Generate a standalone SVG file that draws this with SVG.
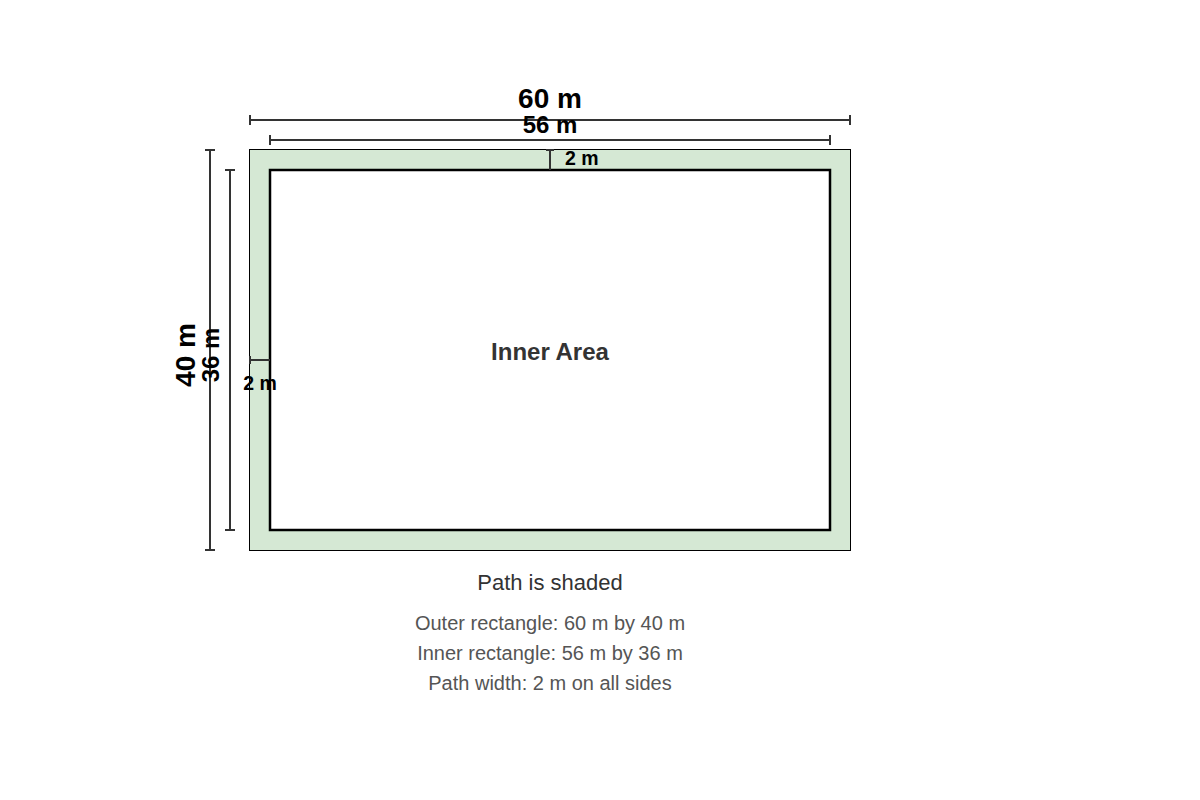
<svg xmlns="http://www.w3.org/2000/svg" width="1200" height="800" viewBox="0 0 1200 800">
<style>
.dim{stroke:#333;stroke-width:2;fill:none}
.lbl{font-family:"Liberation Sans",Arial,sans-serif;font-weight:bold;fill:#000}
.note{font-family:"Liberation Sans",Arial,sans-serif;fill:#555;font-size:20px;text-anchor:middle}
</style>
<rect width="1200" height="800" fill="#fff"/>
<g id="outer-rect"><rect x="249.5" y="149.5" width="601" height="401" fill="#d5e8d4" stroke="#000" stroke-width="1"/></g>
<g id="inner-rect"><rect x="270" y="170" width="560" height="360" fill="#fff" stroke="#000" stroke-width="2.5"/>
<text x="550" y="360" text-anchor="middle" font-family="Liberation Sans, Arial, sans-serif" font-weight="bold" font-size="24" fill="#333">Inner Area</text></g>
<g id="connectors">
<path class="dim" d="M250 120H850M250 115V125M850 115V125"/>
<path class="dim" d="M270 140H830M270 135V145M830 135V145"/>
<path class="dim" d="M210 150V550M205 150H215M205 550H215"/>
<path class="dim" d="M230 170V530M225 170H235M225 530H235"/>
<path class="dim" d="M550 150V170M546 150H554" stroke-width="1.5"/>
<path class="dim" d="M250 360H270M250 356V364" stroke-width="1.5"/>
</g>
<g id="labels">
<text class="lbl" x="550" y="108" text-anchor="middle" font-size="28">60 m</text>
<text class="lbl" x="550" y="133" text-anchor="middle" font-size="24">56 m</text>
<text class="lbl" transform="translate(195 355) rotate(-90)" text-anchor="middle" font-size="28">40 m</text>
<text class="lbl" transform="translate(219 355) rotate(-90)" text-anchor="middle" font-size="24">36 m</text>
<text class="lbl" x="565" y="165" font-size="19.5">2 m</text>
<text class="lbl" x="260" y="390" text-anchor="middle" font-size="19.5">2 m</text>
</g>
<g id="notes">
<text x="550" y="590" text-anchor="middle" font-family="Liberation Sans, Arial, sans-serif" font-size="22" fill="#333">Path is shaded</text>
<text class="note" x="550" y="630">Outer rectangle: 60 m by 40 m</text>
<text class="note" x="550" y="660">Inner rectangle: 56 m by 36 m</text>
<text class="note" x="550" y="690">Path width: 2 m on all sides</text>
</g>
</svg>
